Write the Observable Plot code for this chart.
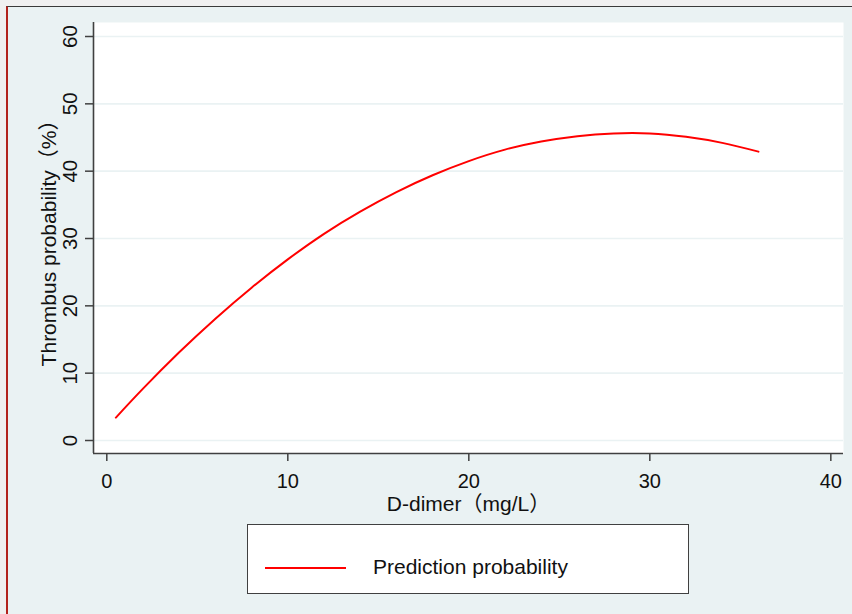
<!DOCTYPE html>
<html>
<head>
<meta charset="utf-8">
<script src="https://cdn.jsdelivr.net/npm/d3@7"></script>
<script src="https://cdn.jsdelivr.net/npm/@observablehq/plot@0.6"></script>
<style>
  html, body { margin: 0; padding: 0; width: 852px; height: 614px; overflow: hidden; background: #F0F0F0; }
  #frame { position: absolute; left: 6px; top: 6px; width: 846px; height: 608px; background: #EAF2F3;
           border-top: 1.5px solid #3a3a3a; border-left: 2px solid #b3221c; box-sizing: border-box; }
  #chart { position: absolute; left: 0; top: 0; }
  #legend { position: absolute; left: 247px; top: 524px; width: 442px; height: 70px; background: #fff;
            border: 1.5px solid #404040; box-sizing: border-box; }
  #legend .swatch { position: absolute; left: 17px; top: 41.5px; width: 81px; height: 2px; background: #FF0000; }
  #legend .label { position: absolute; left: 125px; top: 30px; font: 21px Arial, "Liberation Sans", sans-serif; color: #111; }
</style>
</head>
<body>
<div id="frame"></div>
<div id="chart"></div>
<div id="legend"><div class="swatch"></div><div class="label" id="legendLabel"></div></div>
<script>
// Data
const dDimer      = [0.5, 2, 4, 6, 8, 10, 12, 14, 16, 18, 20, 22, 24, 26, 28, 30, 32, 34, 36];
const probability = [3.4, 7.7, 13.1, 18.1, 22.7, 26.9, 30.7, 34.0, 36.9, 39.4, 41.5, 43.2, 44.4, 45.2, 45.6, 45.6, 45.1, 44.2, 42.9];
const xTicks = [0, 10, 20, 30, 40];
const yTicks = [0, 10, 20, 30, 40, 50, 60];
const xTitle = "D-dimer（mg/L）";
const yTitle = "Thrombus probability（%）";
const seriesName = "Prediction probability";

const data = dDimer.map((x, i) => ({x, y: probability[i]}));
const xDomain = [-0.735, 40.7];
const yDomain = [-1.93, 62.08];
const axisColor = "#404040";

const chart = Plot.plot({
  width: 852,
  height: 614,
  marginLeft: 93,
  marginRight: 9,
  marginTop: 22,
  marginBottom: 161,
  style: {background: "transparent", fontFamily: "Arial, 'Liberation Sans', 'Noto Sans CJK SC', sans-serif", fontSize: "20px", color: "#111"},
  x: {domain: xDomain},
  y: {domain: yDomain},
  marks: [
    Plot.frame({fill: "white", stroke: "none"}),
    Plot.gridY(yTicks, {stroke: "#EAF2F3", strokeOpacity: 1, strokeWidth: 1.6}),
    Plot.line(data, {x: "x", y: "y", stroke: "#FF0000", strokeWidth: 2, curve: "natural"}),
    Plot.ruleX([xDomain[0]], {stroke: axisColor, strokeWidth: 1.6}),
    Plot.ruleY([yDomain[0]], {stroke: axisColor, strokeWidth: 1.6}),
    Plot.axisX(xTicks, {tickSize: 8, tickPadding: 12, fontSize: 20, stroke: axisColor, strokeWidth: 1.5, fill: "#111", label: null}),
    Plot.axisY(yTicks, {tickSize: 8, text: null, stroke: axisColor, strokeWidth: 1.5, label: null}),
    Plot.text(yTicks, {y: d => d, text: d => String(d), frameAnchor: "left", dx: -23.5, rotate: -90, fontSize: 20.5, fill: "#111", lineAnchor: "middle", textAnchor: "middle"}),
    Plot.text([xTitle], {frameAnchor: "bottom", dy: 51, fontSize: 21, fill: "#111", lineAnchor: "middle"}),
    Plot.text([yTitle], {frameAnchor: "left", dx: -44, rotate: -90, fontSize: 21, fill: "#111", lineAnchor: "middle", textAnchor: "middle"})
  ]
});
document.getElementById("chart").appendChild(chart);
document.getElementById("legendLabel").textContent = seriesName;
</script>
</body>
</html>
